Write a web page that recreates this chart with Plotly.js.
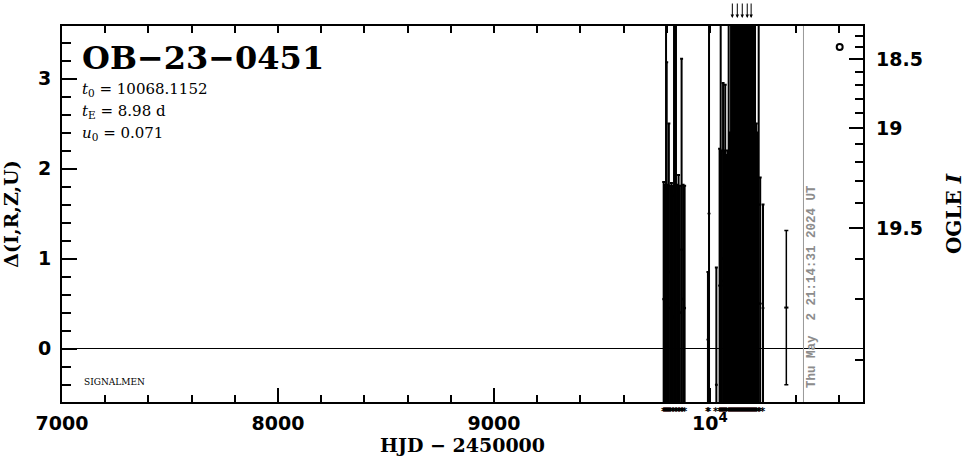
<!DOCTYPE html>
<html>
<head>
<meta charset="utf-8">
<script src="https://cdn.plot.ly/plotly-3.0.1.min.js"></script>
<style>html,body{margin:0;padding:0;background:#fff;}#chart{width:966px;height:459px;}</style>
</head>
<body>
<div id="chart"></div>
<script>
// ---- OGLE data: HJD-2450000, delta, error ----
const ogleHjd = [9786, 9792, 9797, 9800, 9805, 9810, 9816, 9822, 9828, 9834, 9843, 9849, 9855, 9861, 9869, 9876, 9883,
  9991, 9996, 10030, 10045, 10050, 10055, 10061, 10066, 10071, 10076, 10081, 10087, 10093, 10098, 10104, 10108,
  10113, 10118, 10122, 10127, 10132, 10136, 10141, 10146, 10150, 10155, 10160, 10164, 10169, 10173, 10178, 10183,
  10187, 10191, 10196, 10201, 10205, 10209, 10215, 10220, 10226, 10233, 10246];
const ogleDelta = [0.55, 0.40, 1.60, 1.20, 0.50, 0.85, 0.45, 0.60, 0.35, 1.70, 1.50, 0.50, 0.60, 0.40, 1.10, 0.55, 0.45,
  0.10, 1.50, -0.40, 0.70, 1.80, 0.75, 1.00, 0.70, 1.00, 0.60, 0.80, 1.90, 0.90, 1.50, 4.20, 1.60,
  1.40, 1.70, 1.30, 4.50, 1.80, 1.50, 1.60, 1.20, 3.90, 1.90, 1.40, 1.70, 1.30, 4.30, 1.60, 1.50,
  1.80, 4.00, 1.40, 1.60, 1.30, 1.70, 0.90, 0.80, 1.60, 0.50, 0.45];
const ogleErr = [1.30, 1.42, 2.60, 1.98, 1.32, 1.65, 1.36, 1.24, 1.46, 2.50, 2.60, 1.32, 1.33, 1.41, 2.12, 1.27, 1.36,
  0.75, 2.40, 1.30, 1.52, 2.60, 1.45, 1.95, 1.50, 1.93, 1.55, 1.40, 2.60, 1.50, 2.40, 4.90, 2.40,
  2.50, 2.50, 2.60, 5.30, 2.40, 2.50, 2.40, 2.60, 4.70, 2.50, 2.50, 2.40, 2.60, 5.00, 2.50, 2.60,
  2.40, 4.80, 2.50, 2.50, 2.60, 2.40, 1.60, 1.60, 2.50, 1.40, 1.15];

// ---- other single point ----
const otherHjd = [10354];
const otherDelta = [0.456];
const otherErr = [0.857];

// ---- marker circle ----
const circleHjd = [10601];
const circleDelta = [3.35];

// ---- event parameters / labels ----
const eventName = 'OB\u221223\u22120451';
const t0 = '10068.1152';
const tE = '8.98';
const u0 = '0.071';
const dateHjd = 10433.4;
const dateText = 'Thu May  2 21:14:31 2024 UT';

// ---- axes ----
const xRange = [7000, 10709];
const yRange = [-0.593, 3.584];
const xTickVals = [7000, 8000, 9000, 10000];
const xTickText = ['7000', '8000', '9000', '10<sup>4</sup>'];
const yTickVals = [0, 1, 2, 3];
const yTickText = ['0', '1', '2', '3'];
const magMajor = [18.5, 19, 19.5];
const magMajorText = ['18.5', '19', '19.5'];
const magMinor = [18.3, 18.4, 18.6, 18.7, 18.8, 18.9, 19.1, 19.2, 19.3, 19.4, 19.6, 19.7, 19.8];

// magnitude -> delta mapping for right axis
function magToDelta(m) { return 3.052 + 2.5 * Math.log10(Math.pow(10, -0.4 * (m - 19)) - 0.425); }

const xMinor = []; for (let v = 7000; v <= 10700; v += 200) xMinor.push(v);
const yMinor = []; for (let v = -0.4; v <= 3.5; v += 0.2) yMinor.push(Math.round(v * 10) / 10);

const traces = [
  { x: ogleHjd, y: ogleDelta, type: 'scatter', mode: 'markers',
    marker: { color: 'black', size: 3 },
    error_y: { type: 'data', array: ogleErr, visible: true, color: 'black', thickness: 2, width: 1.5 },
    hoverinfo: 'skip' },
  { x: otherHjd, y: otherDelta, type: 'scatter', mode: 'markers', xaxis: 'x2', yaxis: 'y',
    marker: { color: 'black', size: 3, symbol: 'line-ew-open', line: { width: 2, color: 'black' } },
    error_y: { type: 'data', array: otherErr, visible: true, color: 'black', thickness: 1.5, width: 2 },
    hoverinfo: 'skip' },
  { x: circleHjd, y: circleDelta, type: 'scatter', mode: 'markers', xaxis: 'x', yaxis: 'y2',
    marker: { symbol: 'circle-open', size: 6, color: 'black', line: { color: 'black', width: 2 } },
    hoverinfo: 'skip' }
];

const tickFont = { family: 'DejaVu Sans', size: 19, color: 'black', weight: 'bold' };
const serif = 'DejaVu Serif';

const annotations = [];
// arrows for points above the plot
ogleHjd.forEach((h, i) => {
  if (ogleDelta[i] > yRange[1]) {
    annotations.push({ x: h, y: yRange[1], xref: 'x', yref: 'y', yshift: 8, ax: 0, ay: -16,
      showarrow: true, arrowhead: 2, arrowsize: 0.7, arrowwidth: 1, arrowcolor: 'black', text: '' });
  }
});
// observation-time stars below the axis
ogleHjd.forEach((h) => {
  annotations.push({ x: h, y: 0, xref: 'x', yref: 'paper', yshift: -9, xanchor: 'center', yanchor: 'middle',
    showarrow: false, text: '*', font: { family: 'DejaVu Sans', size: 10, color: 'black', weight: 'bold' } });
});
annotations.push(
  { xref: 'paper', yref: 'paper', x: 0, y: 1, xshift: 18, yshift: -11, xanchor: 'left', yanchor: 'top',
    text: eventName, showarrow: false, font: { family: serif, size: 32, color: 'black', weight: 'bold' } },
  { xref: 'paper', yref: 'paper', x: 0, y: 1, xshift: 18, yshift: -52, xanchor: 'left', yanchor: 'top',
    text: '<i>t</i><sub>0</sub> = ' + t0, showarrow: false, font: { family: serif, size: 15, color: 'black' } },
  { xref: 'paper', yref: 'paper', x: 0, y: 1, xshift: 18, yshift: -74, xanchor: 'left', yanchor: 'top',
    text: '<i>t</i><sub>E</sub> = ' + tE + ' d', showarrow: false, font: { family: serif, size: 15, color: 'black' } },
  { xref: 'paper', yref: 'paper', x: 0, y: 1, xshift: 18, yshift: -96, xanchor: 'left', yanchor: 'top',
    text: '<i>u</i><sub>0</sub> = ' + u0, showarrow: false, font: { family: serif, size: 15, color: 'black' } },
  { xref: 'paper', yref: 'paper', x: 0, y: 0, xshift: 20, yshift: 13, xanchor: 'left', yanchor: 'bottom',
    text: 'SIGNALMEN', showarrow: false, font: { family: serif, size: 9, color: 'black' } },
  { xref: 'x', yref: 'paper', x: dateHjd, y: 0, xshift: 8, yshift: 12, xanchor: 'center', yanchor: 'bottom',
    textangle: -90, text: dateText.replace(/  /g, '&nbsp; '), showarrow: false,
    font: { family: 'Liberation Mono', size: 12.5, color: '#8c8c8c', weight: 'bold' } }
);

const layout = {
  width: 966, height: 459,
  margin: { l: 62, r: 103, t: 26, b: 57 },
  paper_bgcolor: 'white', plot_bgcolor: 'white',
  showlegend: false,
  xaxis: {
    range: xRange, tickmode: 'array', tickvals: xTickVals, ticktext: xTickText,
    ticks: 'inside', ticklen: 14, tickwidth: 2, tickcolor: 'black',
    minor: { tickmode: 'array', tickvals: xMinor, ticks: 'inside', ticklen: 7, tickwidth: 2, tickcolor: 'black', showgrid: false },
    showline: true, linewidth: 2, linecolor: 'black', mirror: true,
    showgrid: false, zeroline: false, tickfont: tickFont, ticklabelstandoff: 3,
    title: { text: 'HJD \u2212 2450000', font: { family: serif, size: 19, color: 'black', weight: 'bold' }, standoff: 6 }
  },
  xaxis2: {
    range: xRange, overlaying: 'x', side: 'top', anchor: 'y', tickmode: 'array', tickvals: xMinor,
    ticks: 'inside', ticklen: 7, tickwidth: 2, tickcolor: 'black', showticklabels: false,
    showline: false, showgrid: false, zeroline: false
  },
  yaxis: {
    range: yRange, tickmode: 'array', tickvals: yTickVals, ticktext: yTickText,
    ticks: 'inside', ticklen: 15, tickwidth: 2, tickcolor: 'black',
    minor: { tickmode: 'array', tickvals: yMinor, ticks: 'inside', ticklen: 9, tickwidth: 2, tickcolor: 'black', showgrid: false },
    showline: true, linewidth: 2, linecolor: 'black', mirror: true,
    showgrid: false, zeroline: true, zerolinecolor: 'black', zerolinewidth: 1,
    tickfont: tickFont, ticklabelstandoff: 5,
    title: { text: '\u0394(I,R,Z,U)', font: { family: serif, size: 19, color: 'black', weight: 'bold' }, standoff: 14 }
  },
  yaxis2: {
    range: yRange, overlaying: 'y', side: 'right', anchor: 'x',
    tickmode: 'array', tickvals: magMajor.map(magToDelta), ticktext: magMajorText,
    ticks: 'inside', ticklen: 14, tickwidth: 2, tickcolor: 'black',
    minor: { tickmode: 'array', tickvals: magMinor.map(magToDelta), ticks: 'inside', ticklen: 8, tickwidth: 2, tickcolor: 'black', showgrid: false },
    showline: false, showgrid: false, zeroline: false, tickfont: tickFont, ticklabelstandoff: 12,
    title: { text: 'OGLE <i>I</i>', font: { family: serif, size: 20, color: 'black', weight: 'bold' }, standoff: 28 }
  },
  shapes: [
    { type: 'line', xref: 'x', yref: 'paper', x0: dateHjd, x1: dateHjd, y0: 0, y1: 1,
      line: { color: '#999999', width: 1 } }
  ],
  annotations: annotations
};

Plotly.newPlot('chart', traces, layout, { staticPlot: true, displayModeBar: false });
</script>
</body>
</html>
